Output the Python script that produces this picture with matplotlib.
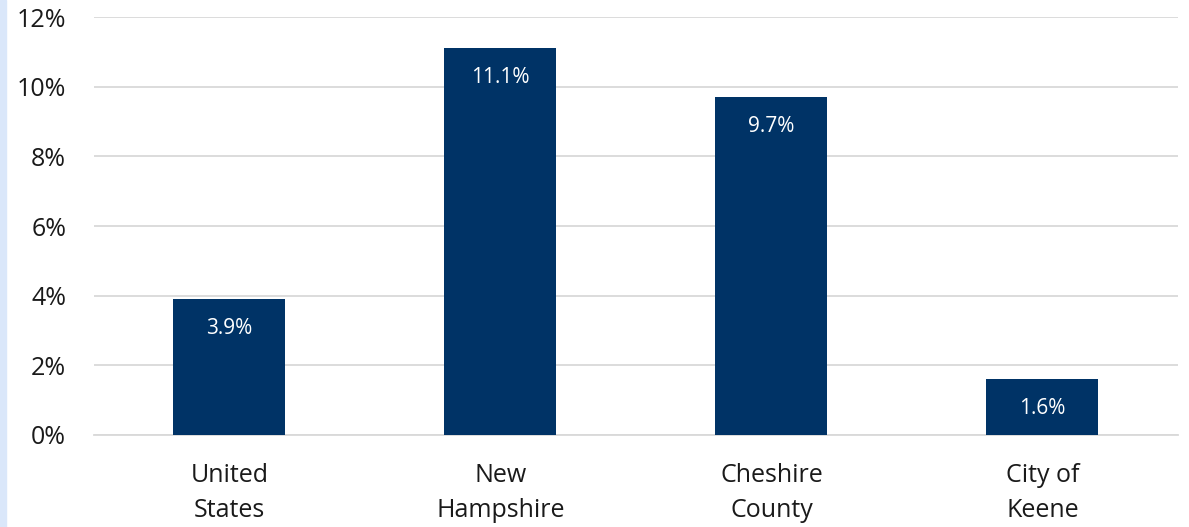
import matplotlib.pyplot as plt
from matplotlib.patches import Rectangle
from matplotlib.ticker import FuncFormatter

plt.rcParams['font.family'] = ['Open Sans', 'DejaVu Sans']

categories = ['United\nStates', 'New\nHampshire', 'Cheshire\nCounty', 'City of\nKeene']
values = [3.9, 11.1, 9.7, 1.6]
value_labels = ['3.9%', '11.1%', '9.7%', '1.6%']

fig = plt.figure(figsize=(11.89, 5.27), dpi=100)
ax = fig.add_axes([0.079, 0.1746, 0.9117, 0.7931])

# light blue strip on the left edge
fig.patches.append(Rectangle((0, 0), 6 / 1189, 1, transform=fig.transFigure,
                             color='#dae7fa', zorder=0))

x = range(len(categories))
bars = ax.bar(x, values, width=0.413, color='#003366', zorder=3)

for b, lab in zip(bars, value_labels):
    ax.annotate(lab, (b.get_x() + b.get_width() / 2, b.get_height()),
                xytext=(0, -21), textcoords='offset points',
                ha='center', va='center', color='white', fontsize=15)

ax.set_xlim(-0.5, len(categories) - 0.5)
ax.set_ylim(0, 12)
ax.set_yticks(range(0, 13, 2))
ax.yaxis.set_major_formatter(FuncFormatter(lambda v, p: f'{v:.0f}%'))
ax.set_xticks(list(x))
ax.set_xticklabels(categories, fontsize=18, color='#1a1a1a', linespacing=1.55)
ax.tick_params(axis='y', labelsize=18, labelcolor='#1a1a1a', length=0, pad=20)
ax.tick_params(axis='x', length=0, pad=20)

ax.grid(axis='y', color='#d9d9d9', linewidth=1.3, zorder=0)
for s in ['top', 'right', 'left']:
    ax.spines[s].set_visible(False)
ax.spines['bottom'].set_color('#d9d9d9')
ax.spines['bottom'].set_linewidth(1.3)

fig.savefig('out.png', dpi=100)
